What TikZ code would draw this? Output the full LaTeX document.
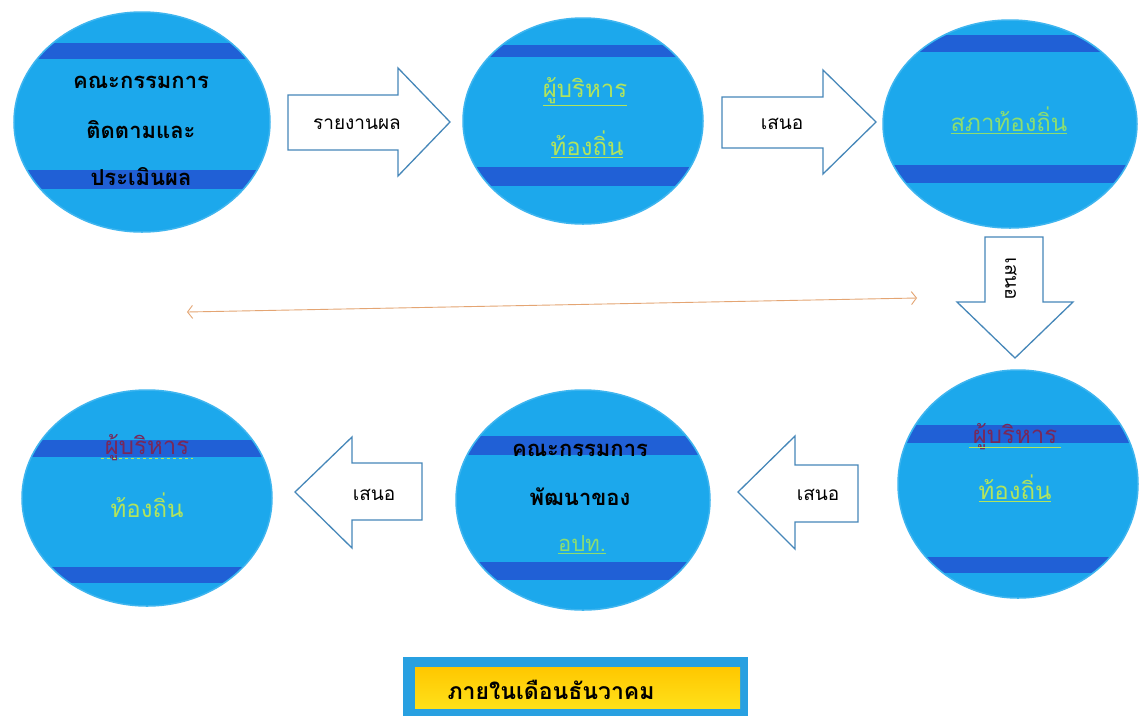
\documentclass[tikz,border=0pt]{standalone}
\usepackage{fontspec}
\newfontfamily\thai[Script=Thai]{Loma}
\usetikzlibrary{arrows.meta,shapes.geometric}
\definecolor{cfill}{RGB}{28,168,236}
\definecolor{cband}{RGB}{32,96,214}
\definecolor{aline}{RGB}{70,135,185}
\definecolor{tgreen}{RGB}{178,228,92}
\definecolor{tgreen2}{RGB}{140,222,112}
\definecolor{tmaroon}{RGB}{120,40,90}
\definecolor{lorange}{RGB}{228,165,115}
\definecolor{ybox}{RGB}{255,212,0}
\definecolor{bbox}{RGB}{40,160,225}
\tikzset{
  bubble/.style={ellipse, fill=cfill, draw=cfill!85!white, line width=1.5pt, inner sep=0pt},
  blockarrow/.style={draw=aline, fill=white, line width=1.3pt, line join=miter},
  ctext/.style={font=\thai\bfseries\fontsize{22}{26}\selectfont, text=black},
  gtext/.style={font=\thai\fontsize{24}{28}\selectfont, text=tgreen},
  atext/.style={font=\thai\fontsize{19}{22}\selectfont, text=black},
  uline/.style={tgreen, line width=0.8pt},
}
\begin{document}
\begin{tikzpicture}[x=1pt,y=-1pt]
\fill[white] (0,0) rectangle (1141,716);
\useasboundingbox (0,0) rectangle (1141,716);

% ---------- circles ----------
\node[bubble, minimum width=256, minimum height=220] (c1) at (142,122) {};
\node[bubble, minimum width=240, minimum height=206] (c2) at (583,121) {};
\node[bubble, minimum width=254, minimum height=208] (c3) at (1010,124) {};
\node[bubble, minimum width=240, minimum height=228] (c4) at (1018,484) {};
\node[bubble, minimum width=254, minimum height=220] (c5) at (583,500) {};
\node[bubble, minimum width=250, minimum height=216] (c6) at (147,498) {};

% bands
\begin{scope}
\clip (142,122) ellipse [x radius=127, y radius=109];
\fill[cband] (0,43) rectangle (1141,59);
\fill[cband] (0,170) rectangle (1141,189);
\end{scope}
\begin{scope}
\clip (583,121) ellipse [x radius=119, y radius=102];
\fill[cband] (0,45) rectangle (1141,57);
\fill[cband] (0,167) rectangle (1141,186);
\end{scope}
\begin{scope}
\clip (1010,124) ellipse [x radius=126, y radius=103];
\fill[cband] (0,35) rectangle (1141,52);
\fill[cband] (0,165) rectangle (1141,183);
\end{scope}
\begin{scope}
\clip (1018,484) ellipse [x radius=119, y radius=113];
\fill[cband] (0,425) rectangle (1141,443);
\fill[cband] (0,557) rectangle (1141,573);
\end{scope}
\begin{scope}
\clip (583,500) ellipse [x radius=126, y radius=109];
\fill[cband] (0,436) rectangle (1141,455);
\fill[cband] (0,562) rectangle (1141,580);
\end{scope}
\begin{scope}
\clip (147,498) ellipse [x radius=124, y radius=107];
\fill[cband] (0,440) rectangle (1141,457);
\fill[cband] (0,567) rectangle (1141,583);
\end{scope}

% texts in circles
\node[ctext] (t1a) at (141,82) {คณะกรรมการ};
\node[ctext] (t1b) at (141,130) {ติดตามและ};
\node[ctext] (t1c) at (141,177) {ประเมินผล};

\node[gtext] (t2a) at (585,92) {\underline{ผู้บริหาร}};
\node[gtext] (t2b) at (587,144) {\underline{ท้องถิ่น}};

\node[gtext, text=tgreen2] (t3) at (1009,120) {\underline{สภาท้องถิ่น}};

\node[gtext, text=tmaroon] (t4a) at (1015,437) {ผู้บริหาร};
\draw[uline] ([yshift=-3pt]t4a.base west) -- ([yshift=-3pt]t4a.base east);
\node[gtext] (t4b) at (1015,488) {\underline{ท้องถิ่น}};

\node[ctext] (t5a) at (580,450) {คณะกรรมการ};
\node[ctext] (t5b) at (580,497) {พัฒนาของ};
\node[gtext, text=tgreen2, font=\thai\fontsize{22}{26}\selectfont] (t5c) at (582,545) {\underline{อปท.}};

\node[gtext, text=tmaroon] (t6a) at (147,448) {ผู้บริหาร};
\draw[uline, dashed] ([yshift=-3pt]t6a.base west) -- ([yshift=-3pt]t6a.base east);
\node[gtext] (t6b) at (147,505) {ท้องถิ่น};

% ---------- block arrows ----------
\draw[blockarrow] (288,95) -- (398,95) -- (398,68) -- (450,122) -- (398,176) -- (398,150) -- (288,150) -- cycle;
\node[atext] (a1) at (357,124) {รายงานผล};

\draw[blockarrow] (722,97) -- (823,97) -- (823,70) -- (876,122) -- (823,174) -- (823,148) -- (722,148) -- cycle;
\node[atext] (a2) at (782,124) {เสนอ};

\draw[blockarrow] (985,237) -- (1043,237) -- (1043,302) -- (1073,302) -- (1015,358) -- (957,302) -- (985,302) -- cycle;
\node[atext, rotate=-90] (a3) at (1011,279) {เสนอ};

\draw[blockarrow] (858,465) -- (795,465) -- (795,436) -- (738,492) -- (795,549) -- (795,522) -- (858,522) -- cycle;
\node[atext] (a4) at (818,495) {เสนอ};

\draw[blockarrow] (422,463) -- (352,463) -- (352,437) -- (295,492) -- (352,548) -- (352,520) -- (422,520) -- cycle;
\node[atext] (a5) at (374,495) {เสนอ};

% ---------- thin double arrow ----------
\coordinate (la) at (187,312);
\coordinate (ra) at (917,298);
\draw[lorange, line width=0.9pt, {Straight Barb[length=5pt,width=13pt]}-{Straight Barb[length=5pt,width=13pt]}] (la) -- (ra);

% ---------- bottom label ----------
\fill[bbox] (403,657) rectangle (748,716);
\shade[top color=ybox!85!orange, bottom color=ybox!80!yellow!90!white] (415,667) rectangle (740,708);
\node[font=\thai\bfseries\fontsize{23}{27}\selectfont, text=black] (lbl) at (551,690) {ภายในเดือนธันวาคม};
\end{tikzpicture}
\end{document}
